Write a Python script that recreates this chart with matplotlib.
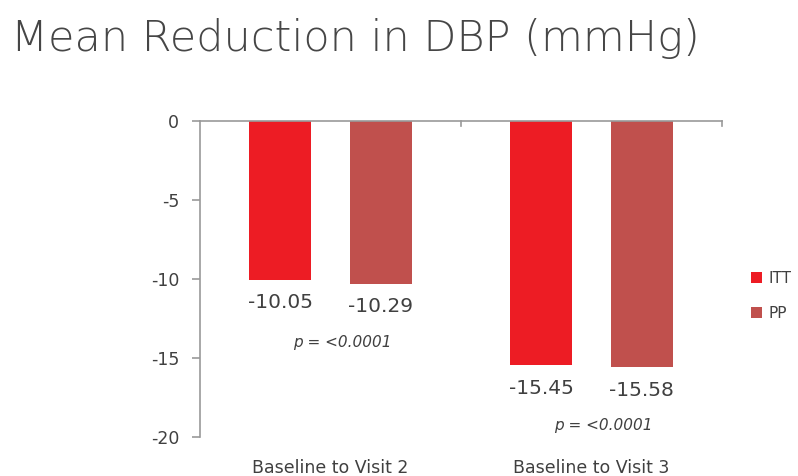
import matplotlib
matplotlib.use("Agg")
import matplotlib.pyplot as plt
import numpy as np

categories = ["Baseline to Visit 2", "Baseline to Visit 3"]
itt = [-10.05, -15.45]
pp = [-10.29, -15.58]
p_values = ["p = <0.0001", "p = <0.0001"]
yticks = [0, -5, -10, -15, -20]

plt.rcParams['font.family'] = ['DejaVu Sans']

fig = plt.figure(figsize=(7.98, 4.76), dpi=100)
ax = fig.add_axes([0.2506, 0.0819, 0.6542, 0.6639])

x = np.arange(len(categories))
off = 0.192
w = 0.238
ax.bar(x - off, itt, w, color="#ED1C24", label="ITT")
ax.bar(x + off, pp, w, color="#C0504D", label="PP")

ax.set_xlim(-0.5, 1.5)
ax.set_ylim(-20, 0)
ax.set_yticks(yticks)
ax.set_yticklabels([str(t) for t in yticks], fontsize=12.5, color="#404040")
ax.tick_params(axis="y", length=6, color="#999999", width=1.2, pad=9)
ax.set_xticks([])

for s in ["bottom", "right"]:
    ax.spines[s].set_visible(False)
for s in ["left", "top"]:
    ax.spines[s].set_color("#999999")
    ax.spines[s].set_linewidth(1.2)
# category boundary ticks on the top axis
for xb in [0.5, 1.5]:
    ax.plot([xb, xb], [0, -0.3], color="#999999", lw=1.2, clip_on=False)

for i in range(len(categories)):
    ax.text(x[i] - off, itt[i] - 1.45, f"{itt[i]:.2f}", ha="center", va="center",
            fontsize=14.5, color="#404040")
    ax.text(x[i] + off, pp[i] - 1.45, f"{pp[i]:.2f}", ha="center", va="center",
            fontsize=14.5, color="#404040")
    ax.text(x[i] + 0.045, min(itt[i], pp[i]) - 3.7, p_values[i], ha="center", va="center",
            fontsize=11, style="italic", color="#404040")
    ax.text(x[i], -22.3, categories[i], ha="center", va="baseline",
            fontsize=12.5, color="#404040")

ax.legend(loc="center left", bbox_to_anchor=(1.03, 0.446), frameon=False,
          fontsize=11, handlelength=0.7, handleheight=0.7, handletextpad=0.4,
          labelspacing=1.3, labelcolor="#404040")

fig.text(0.014, 0.893, "Mean Reduction in DBP (mmHg)", fontsize=31, color="#464646",
         fontweight=200, ha="left", va="baseline")

fig.savefig("out.png", dpi=100)
